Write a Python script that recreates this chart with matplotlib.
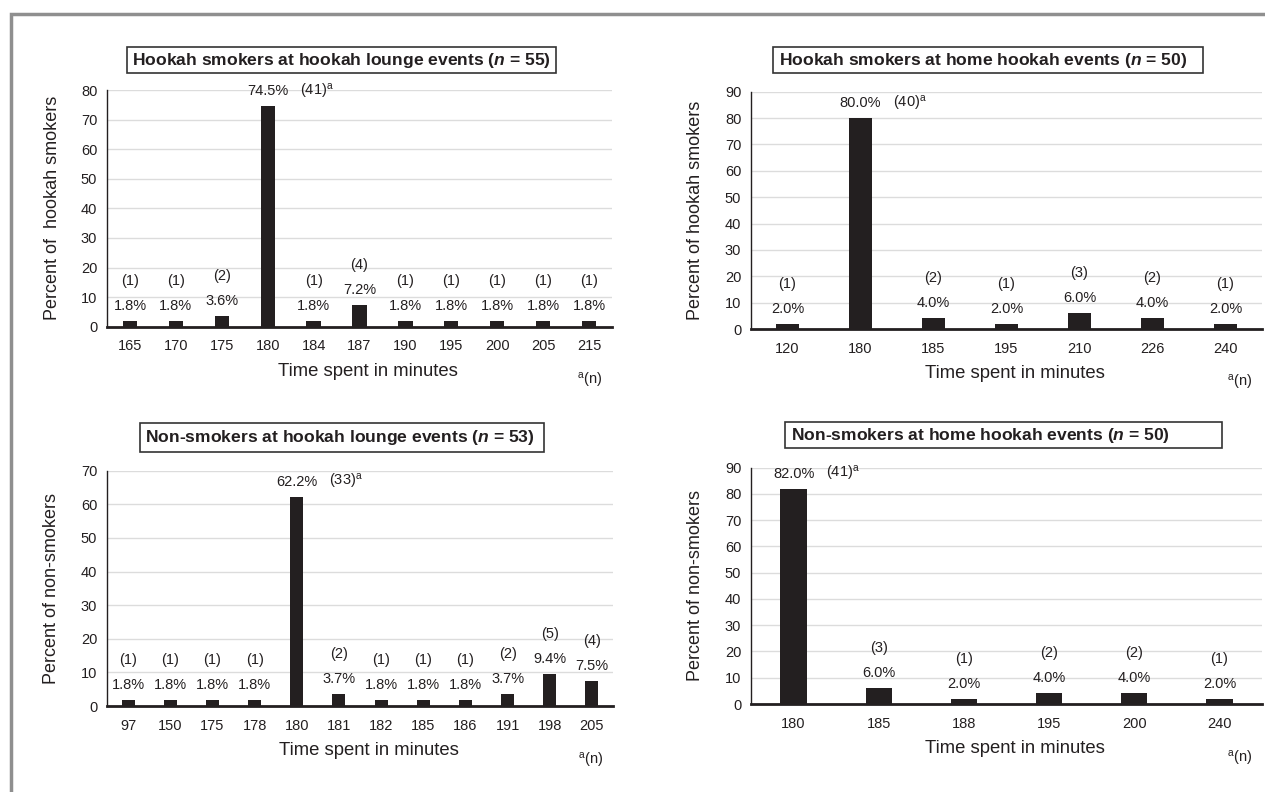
import matplotlib
matplotlib.use("Agg")
import matplotlib.pyplot as plt
from matplotlib.patches import Rectangle

plt.rcParams["font.family"] = ["Liberation Sans", "DejaVu Sans"]
plt.rcParams["mathtext.fontset"] = "custom"
plt.rcParams["mathtext.rm"] = "Liberation Sans"
plt.rcParams["mathtext.it"] = "Liberation Sans:italic:bold"

# Panel data: time spent (categories), percent, count
lounge_smk_times = ["165", "170", "175", "180", "184", "187", "190", "195", "200", "205", "215"]
lounge_smk_pct = [1.8, 1.8, 3.6, 74.5, 1.8, 7.2, 1.8, 1.8, 1.8, 1.8, 1.8]
lounge_smk_n = [1, 1, 2, 41, 1, 4, 1, 1, 1, 1, 1]

home_smk_times = ["120", "180", "185", "195", "210", "226", "240"]
home_smk_pct = [2.0, 80.0, 4.0, 2.0, 6.0, 4.0, 2.0]
home_smk_n = [1, 40, 2, 1, 3, 2, 1]

lounge_non_times = ["97", "150", "175", "178", "180", "181", "182", "185", "186", "191", "198", "205"]
lounge_non_pct = [1.8, 1.8, 1.8, 1.8, 62.2, 3.7, 1.8, 1.8, 1.8, 3.7, 9.4, 7.5]
lounge_non_n = [1, 1, 1, 1, 33, 2, 1, 1, 1, 2, 5, 4]

home_non_times = ["180", "185", "188", "195", "200", "240"]
home_non_pct = [82.0, 6.0, 2.0, 4.0, 4.0, 2.0]
home_non_n = [41, 3, 1, 2, 2, 1]

W, H = 1265, 792
fig = plt.figure(figsize=(W / 100, H / 100), dpi=100)

INK = "#231f20"


def px(x, y):
    return x / W, 1 - y / H


def panel(rect, times, pct, counts, ymax, ylabel, title, box, text_x, text_y):
    l, t, r, b = rect
    ax = fig.add_axes([l / W, 1 - b / H, (r - l) / W, (b - t) / H])
    xs = list(range(len(times)))
    ax.bar(xs, pct, width=0.31, color=INK, zorder=3)
    ax.set_xlim(-0.5, len(times) - 0.5)
    ax.set_ylim(0, ymax)
    ax.set_yticks(range(0, ymax + 1, 10))
    ax.set_xticks(xs)
    ax.set_xticklabels(times)
    ax.tick_params(axis="both", length=0, labelsize=10.5, colors=INK)
    ax.tick_params(axis="x", pad=9)
    ax.tick_params(axis="y", pad=7)
    ax.grid(axis="y", color="#dcdcdc", lw=1, zorder=0)
    for s in ("top", "right"):
        ax.spines[s].set_visible(False)
    ax.spines["left"].set_color(INK)
    ax.spines["left"].set_linewidth(1)
    ax.spines["bottom"].set_color(INK)
    ax.spines["bottom"].set_linewidth(2)
    ax.set_ylabel(ylabel, fontsize=13, color=INK)
    ax.yaxis.set_label_coords(-0.092, 0.5)
    ax.set_xlabel("Time spent in minutes", fontsize=13.3, color=INK)
    ax.xaxis.set_label_coords(0.517, -0.152)

    top = max(pct)
    for x, v, n in zip(xs, pct, counts):
        ax.annotate(f"{v:.1f}%", (x, v), xytext=(0, 15), textcoords="offset pixels",
                    ha="center", va="center", fontsize=10.5, color=INK)
        if v == top:
            ax.annotate(f"({n})" + r"$^{\mathrm{a}}$", (x, v), xytext=(49, 15),
                        textcoords="offset pixels", ha="center", va="center",
                        fontsize=10.5, color=INK)
        else:
            ax.annotate(f"({n})", (x, v), xytext=(0, 40), textcoords="offset pixels",
                        ha="center", va="center", fontsize=10.5, color=INK)

    # footnote marker
    fx, fy = px(r - 22, b + 54)
    fig.text(fx, fy, r"${}^{\mathrm{a}}$(n)", ha="center", va="center", fontsize=10.5, color=INK)

    # title box
    bx0, by0, bx1, by1 = box
    fig.patches.append(Rectangle((bx0 / W, 1 - by1 / H), (bx1 - bx0) / W, (by1 - by0) / H,
                                 transform=fig.transFigure, fill=False, ec="#333333", lw=1.2))
    tx, ty = px(text_x, text_y)
    fig.text(tx, ty, title, ha="left", va="center", fontsize=12.6, fontweight="bold", color=INK)
    return ax


panel((107, 90, 612, 326.7), lounge_smk_times, lounge_smk_pct, lounge_smk_n, 80,
      "Percent of  hookah smokers", r"Hookah smokers at hookah lounge events ($\mathit{n}$ = 55)",
      (126.5, 46.7, 556, 72.7), 131.5, 60.5)
panel((751, 91.7, 1262, 329), home_smk_times, home_smk_pct, home_smk_n, 90,
      "Percent of hookah smokers", r"Hookah smokers at home hookah events ($\mathit{n}$ = 50)",
      (773, 46.7, 1203, 73), 779, 60.5)
panel((107, 470.7, 613, 706), lounge_non_times, lounge_non_pct, lounge_non_n, 70,
      "Percent of non-smokers", r"Non-smokers at hookah lounge events ($\mathit{n}$ = 53)",
      (140, 423.3, 544, 451.7), 145, 438)
panel((751, 467.7, 1262, 704), home_non_times, home_non_pct, home_non_n, 90,
      "Percent of non-smokers", r"Non-smokers at home hookah events ($\mathit{n}$ = 50)",
      (785, 421.7, 1222, 448.3), 791, 435.5)

# outer grey frame (top and left edges visible)
fig.patches.append(Rectangle((11 / W, -0.1), 1.2, 1.1 - 13.5 / H,
                             transform=fig.transFigure, fill=False, ec="#8f8f8f", lw=2.5))

fig.savefig("out.png", dpi=100)
